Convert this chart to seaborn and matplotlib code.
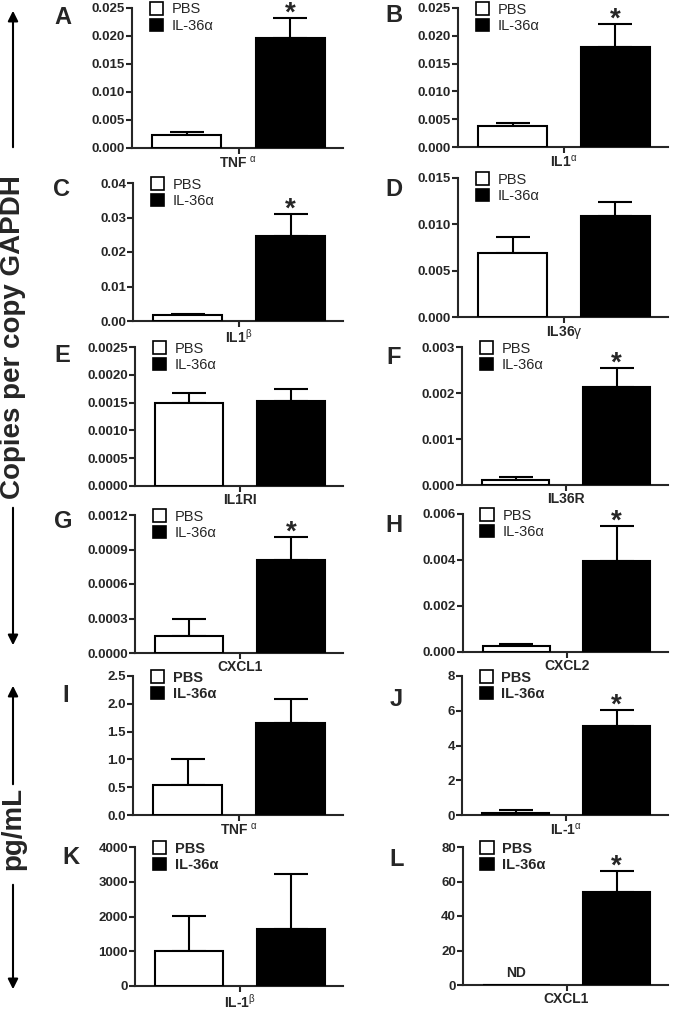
import numpy as np
import matplotlib
matplotlib.use('Agg')
import matplotlib.pyplot as plt
from matplotlib.patches import Patch, FancyArrowPatch
from matplotlib.ticker import FormatStrFormatter
import seaborn as sns

sns.set_style('ticks')
plt.rcParams['font.family'] = ['Liberation Sans', 'DejaVu Sans']
plt.rcParams['mathtext.fontset'] = 'custom'
plt.rcParams['mathtext.rm'] = 'Liberation Sans'
plt.rcParams['mathtext.it'] = 'Liberation Sans:italic'
plt.rcParams['mathtext.bf'] = 'Liberation Sans:bold'

# data (mean and upper SEM)
groups = ['PBS', 'IL-36α']
letters = ['A', 'B', 'C', 'D', 'E', 'F', 'G', 'H', 'I', 'J', 'K', 'L']
genes = ['TNF $^{\\mathrm{α}}$', 'IL1$^{\\mathrm{α}}$', 'IL1$^{\\mathrm{β}}$', 'IL36$\\mathrm{γ}$',
         'IL1RI', 'IL36R', 'CXCL1', 'CXCL2',
         'TNF $^{\\mathrm{α}}$', 'IL-1$^{\\mathrm{α}}$', 'IL-1$^{\\mathrm{β}}$', 'CXCL1']
pbs_mean = [0.0024, 0.0038, 0.0016, 0.0069, 0.00150, 0.00011, 0.000145, 0.00025, 0.535, 0.13, 1010, 0]
pbs_sem = [0.0004, 0.00045, 0.0003, 0.0017, 0.00017, 0.00006, 0.00015, 0.00008, 0.465, 0.16, 1009, 0]
il36_mean = [0.0196, 0.0180, 0.0247, 0.0109, 0.00152, 0.00213, 0.000808, 0.00397, 1.646, 5.11, 1644, 53.9]
il36_sem = [0.0036, 0.0041, 0.0064, 0.00155, 0.00022, 0.00042, 0.0002, 0.00151, 0.438, 0.94, 1577, 12.0]
significant = [True, True, True, False, False, True, True, True, False, True, False, True]
y_max = [0.025, 0.025, 0.04, 0.015, 0.0025, 0.003, 0.0012, 0.006, 2.5, 8, 4000, 80]
y_step = [0.005, 0.005, 0.01, 0.005, 0.0005, 0.001, 0.0003, 0.002, 0.5, 2, 1000, 20]
y_fmt = ['%.3f', '%.3f', '%.2f', '%.3f', '%.4f', '%.3f', '%.4f', '%.3f', '%.1f', '%.0f', '%.0f', '%.0f']
not_detected = [False] * 11 + [True]

W, H = 678, 1009
# axes boxes in pixels: left, top, right, bottom
boxes = [(132, 8, 343, 148), (458, 8, 668, 147),
         (133, 183, 343, 321), (458, 178, 668, 317),
         (135, 347, 343, 486), (462, 347, 668, 485),
         (135, 515, 343, 653), (463, 514, 668, 652),
         (133, 676, 343, 815), (462, 676, 668, 815),
         (135, 847, 343, 986), (463, 847, 668, 985)]
letter_pos = [(63, 17), (394, 16), (62, 189), (394, 189), (62, 355), (394, 357),
              (63, 522), (394, 525), (66, 695), (396, 699), (71, 857), (397, 859)]

fig = plt.figure(figsize=(W / 100, H / 100), dpi=100)
colors = {'PBS': 'white', 'IL-36α': 'black'}

for i in range(12):
    l, t, r, b = boxes[i]
    ax = fig.add_axes([l / W, 1 - b / H, (r - l) / W, (b - t) / H])
    means = [pbs_mean[i], il36_mean[i]]
    sems = [pbs_sem[i], il36_sem[i]]
    sns.barplot(x=groups, y=means, hue=groups, order=groups, palette=colors,
                width=0.67, edgecolor='black', linewidth=1.5, errorbar=None,
                legend=False, ax=ax, zorder=3)
    for k in range(2):
        if sems[k] > 0:
            ax.errorbar([k], [means[k]], yerr=[[0], [sems[k]]], fmt='none',
                        ecolor='black', elinewidth=1.5, capsize=12.5, capthick=1.5, zorder=2)
    if significant[i]:
        ax.annotate('*', xy=(1, il36_mean[i] + il36_sem[i]), xytext=(0, -2),
                    textcoords='offset points', ha='center', va='baseline',
                    fontsize=20, fontweight='bold', annotation_clip=False)
    if not_detected[i]:
        ax.annotate('ND', xy=(0, 0), xytext=(0, 6), textcoords='offset points',
                    ha='center', va='baseline', fontsize=10, fontweight='bold')

    ax.set_xlim(-0.53, 1.51)
    ax.set_ylim(0, y_max[i])
    ax.set_yticks(np.arange(0, y_max[i] + y_step[i] / 2, y_step[i]))
    ax.yaxis.set_major_formatter(FormatStrFormatter(y_fmt[i]))
    ax.set_xticks([0.5])
    ax.set_xticklabels([genes[i]])
    ax.set_xlabel('')
    ax.set_ylabel('')
    sns.despine(ax=ax)
    for s in ['left', 'bottom']:
        ax.spines[s].set_linewidth(1.5)
    ax.tick_params(axis='y', length=4, width=1.5, labelsize=9.5, pad=1)
    ax.tick_params(axis='x', length=4, width=1.5, labelsize=10, pad=1)
    for lbl in ax.get_yticklabels() + ax.get_xticklabels():
        lbl.set_fontweight('bold')

    handles = [Patch(facecolor=colors[g], edgecolor='black', linewidth=1.2) for g in groups]
    ax.legend(handles, groups, loc='upper left', bbox_to_anchor=(0.085, 1.04),
              frameon=False, borderpad=0, borderaxespad=0, handlelength=0.9,
              handleheight=0.9, handletextpad=0.6, labelspacing=0.15,
              prop={'size': 10.5, 'weight': 'bold' if i >= 8 else 'normal'})

    fig.text(letter_pos[i][0] / W, 1 - letter_pos[i][1] / H, letters[i],
             ha='center', va='center', fontsize=17, fontweight='bold')

# side labels with arrows
fig.text(13 / W, 1 - 337 / H, 'Copies per copy GAPDH', rotation=90,
         ha='center', va='center', fontsize=20, fontweight='bold')
fig.text(13 / W, 1 - 828 / H, 'pg/mL', rotation=90,
         ha='center', va='center', fontsize=20, fontweight='bold')
for y0, y1 in [(150, 8), (505, 648), (787, 683), (882, 992)]:
    arr = FancyArrowPatch((13 / W, 1 - y0 / H), (13 / W, 1 - y1 / H),
                          transform=fig.transFigure, arrowstyle='-|>',
                          mutation_scale=15, linewidth=1.5, color='black')
    fig.patches.append(arr)

fig.savefig('out.png', dpi=100)
